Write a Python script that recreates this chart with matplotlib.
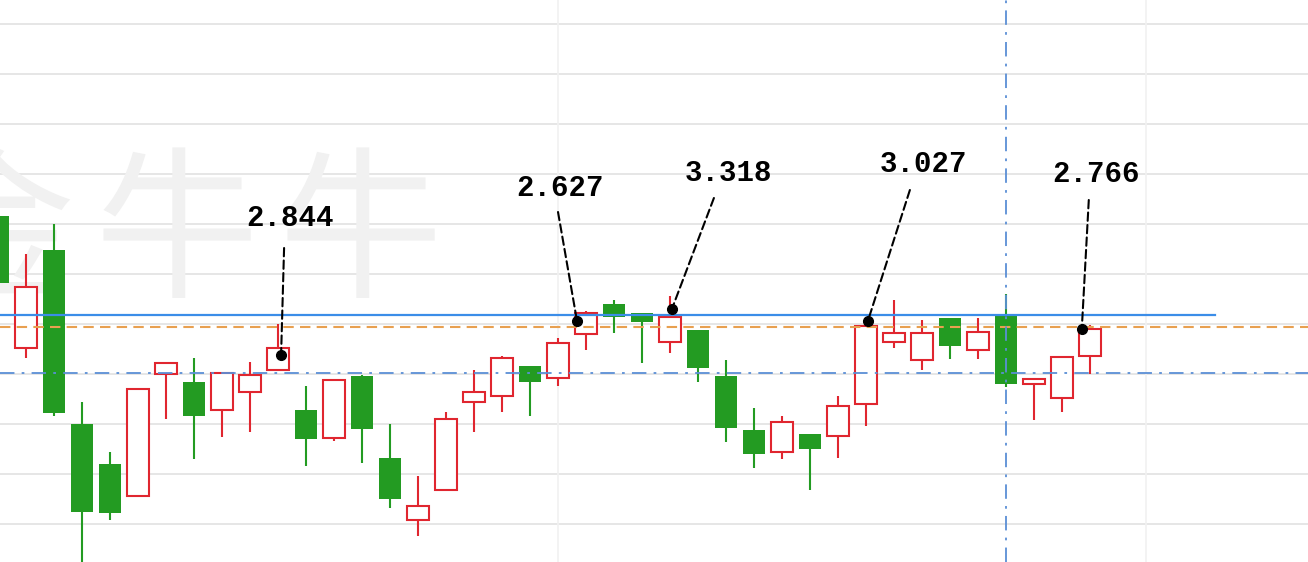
import numpy as np
import matplotlib
matplotlib.use("Agg")
import matplotlib.pyplot as plt

# candle index, open, high, low, close
idx = np.arange(-1, 39)
opens = [13.08, 11.76, 12.74, 11.00, 10.60, 10.28, 11.50, 11.42, 11.14, 11.32,
         11.54, 11.14, 10.86, 11.48, 10.66, 10.04, 10.34, 11.22, 11.28, 11.58,
         11.46, 11.90, 12.20, 12.11, 11.82, 11.94, 11.48, 10.94, 10.72, 10.90,
         10.88, 11.20, 11.82, 11.64, 12.06, 11.74, 12.08, 11.40, 11.26, 11.68]
highs = [13.08, 12.70, 13.00, 11.22, 10.72, 11.35, 11.61, 11.66, 11.52, 11.62,
         12.00, 11.38, 11.45, 11.49, 11.00, 10.48, 11.12, 11.54, 11.68, 11.58,
         11.86, 12.13, 12.24, 12.11, 12.28, 11.94, 11.64, 11.16, 11.08, 10.90,
         11.28, 11.98, 12.24, 12.04, 12.06, 12.06, 12.30, 11.45, 11.67, 11.99]
lows = [12.41, 11.66, 11.08, 9.59, 10.04, 10.28, 11.05, 10.65, 10.87, 10.92,
        11.54, 10.58, 10.83, 10.61, 10.16, 9.88, 10.34, 10.92, 11.12, 11.08,
        11.38, 11.74, 11.91, 11.61, 11.71, 11.42, 10.82, 10.56, 10.65, 10.34,
        10.66, 10.98, 11.76, 11.54, 11.65, 11.65, 11.37, 11.04, 11.12, 11.50]
closes = [12.41, 12.37, 11.11, 10.12, 10.11, 11.35, 11.61, 11.08, 11.51, 11.49,
          11.76, 10.85, 11.44, 10.95, 10.25, 10.18, 11.05, 11.32, 11.66, 11.42,
          11.81, 12.11, 12.07, 12.02, 12.07, 11.56, 10.96, 10.70, 11.02, 10.75,
          11.18, 11.98, 11.91, 11.91, 11.78, 11.92, 11.40, 11.45, 11.67, 11.95]

# marked points and their labels
mark_x = [9.11, 19.68, 23.07, 30.07, 37.71]
mark_y = [11.69, 12.03, 12.15, 12.03, 11.95]
mark_labels = ["2.844", "2.627", "3.318", "3.027", "2.766"]

# reference lines
line_solid = 12.09
line_dashed = 11.97
line_dashdot = 11.51
cursor_x = 35

watermark = "金牛牛"

up_color = "#e0262f"
down_color = "#239b22"

fig = plt.figure(figsize=(13.08, 5.62), dpi=100)
ax = fig.add_axes([0, 0, 1, 1])
ax.set_xlim(-0.93, 45.79)
ax.set_ylim(9.62, 15.24)
ax.axis("off")

# grid
for g in np.arange(10.0, 15.01, 0.5):
    ax.axhline(g, color="#e6e6e6", lw=1.4, zorder=0)
for g in [19, 40]:
    ax.axvline(g, color="#f1f1f1", lw=1.2, zorder=0)

# watermark, one glyph at a time for the wide spacing
for j, ch in enumerate(watermark):
    ax.text((-8 + 184 * j) / 1308, 1 - 238 / 562, ch, transform=ax.transAxes,
            fontsize=118, family=["Noto Sans CJK SC", "DejaVu Sans"],
            color="#f1f1f1", ha="center", va="center", zorder=0.5)

# candles
w = 0.78
for i, o, h, l, c in zip(idx, opens, highs, lows, closes):
    top, bot = max(o, c), min(o, c)
    if c >= o:
        ax.vlines(i, top, h, color=up_color, lw=1.5, zorder=2)
        ax.vlines(i, l, bot, color=up_color, lw=1.5, zorder=2)
        ax.bar(i, top - bot, width=w, bottom=bot, facecolor="white",
               edgecolor=up_color, lw=1.5, zorder=3)
    else:
        ax.vlines(i, l, h, color=down_color, lw=1.5, zorder=2)
        ax.bar(i, top - bot, width=w, bottom=bot, color=down_color,
               lw=0, zorder=3)

# reference lines
ax.axhline(line_solid, xmax=1215 / 1308, color="#3b8de8", lw=1.6, zorder=4)
ax.axhline(line_dashed, color="#e8a050", lw=1.5, ls=(0, (5, 3)), zorder=4)
ax.axhline(line_dashdot, color="#5b8fd6", lw=1.3, ls=(0, (8, 4, 1.5, 4)), zorder=4)
ax.axvline(cursor_x, color="#5b8fd6", lw=1.3, ls=(0, (8, 4, 1.5, 4)), zorder=4)

# labels with leader lines (offsets in pixels)
lead_off = [(3, 107), (-19, 109), (42, 111), (42, 131), (7, 129)]
text_off = [(9, 137), (-17, 133), (57, 136), (56, 157), (14, 155)]
ax.plot(mark_x, mark_y, "o", color="black", ms=7, zorder=6)
for x, y, lab, lo, to in zip(mark_x, mark_y, mark_labels, lead_off, text_off):
    ax.annotate("", xy=(x, y), xytext=lo, textcoords="offset pixels",
                arrowprops=dict(arrowstyle="-", color="black", lw=1.5,
                                ls=(0, (4, 2)), shrinkA=0, shrinkB=0),
                zorder=5)
    ax.annotate(lab, xy=(x, y), xytext=to, textcoords="offset pixels",
                ha="center", va="center", fontsize=21, fontweight="bold",
                family="Liberation Mono", color="black", zorder=6)

fig.savefig("out.png", dpi=100)
